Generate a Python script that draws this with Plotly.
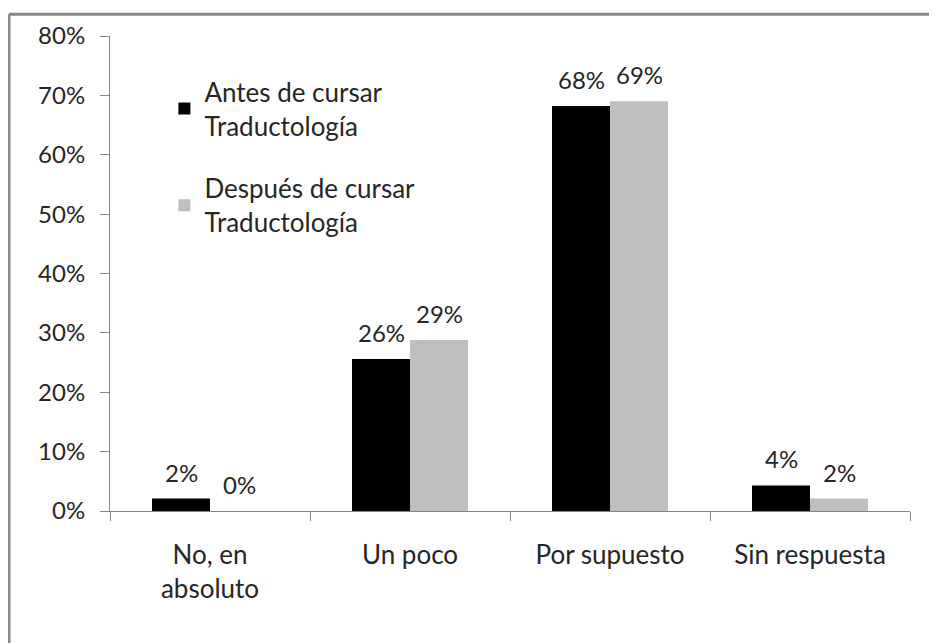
import plotly.graph_objects as go

categories = ["No, en<br>absoluto", "Un poco", "Por supuesto", "Sin respuesta"]
antes = [0.021, 0.256, 0.682, 0.043]
despues = [0.0, 0.288, 0.690, 0.021]
antes_labels = ["2%", "26%", "68%", "4%"]
despues_labels = ["0%", "29%", "69%", "2%"]
series_names = ["Antes de cursar<br>Traductología", "Después de cursar<br>Traductología"]
y_ticks = [0, 0.1, 0.2, 0.3, 0.4, 0.5, 0.6, 0.7, 0.8]
y_ticklabels = ["0%", "10%", "20%", "30%", "40%", "50%", "60%", "70%", "80%"]

FONT = "Lato"
TXT = "#262626"
AX = "#868686"
BAR_PX = 58  # bar width in pixels (800px / 4 categories * 0.58 / 2)

fig = go.Figure()
fig.add_trace(go.Bar(x=categories, y=antes, name=series_names[0], marker_color="#000000",
                     marker_line_width=0, legendgroup="a"))
fig.add_trace(go.Bar(x=categories, y=despues, name=series_names[1], marker_color="#BFBFBF",
                     marker_line_width=0, legendgroup="b"))

annotations = []
for vals, labels, shift in ((antes, antes_labels, -BAR_PX / 2), (despues, despues_labels, BAR_PX / 2)):
    for c, v, t in zip(categories, vals, labels):
        annotations.append(dict(x=c, y=v, xref="x", yref="y", text=t, showarrow=False,
                                xshift=shift, yanchor="bottom", yshift=10,
                                font=dict(size=24, family=FONT, color=TXT)))

PH = 481  # plot height in px
fig.update_layout(
    width=937, height=643,
    margin=dict(l=102, r=35, t=22, b=140),
    paper_bgcolor="white", plot_bgcolor="white",
    barmode="group", bargap=0.42, bargroupgap=0,
    font=dict(family=FONT, size=24, color=TXT),
    showlegend=True,
    legend=dict(x=0.068, y=0.932, xanchor="left", yanchor="top",
                bgcolor="rgba(0,0,0,0)", font=dict(size=26, family=FONT, color=TXT),
                tracegroupgap=26, itemwidth=30),
    xaxis=dict(showline=True, linecolor=AX, linewidth=1, ticks="outside", tickson="boundaries",
               ticklen=9, tickcolor=AX, tickfont=dict(size=26, family=FONT, color=TXT),
               ticklabelstandoff=21,
               showgrid=False, zeroline=False),
    yaxis=dict(range=[0, 0.8], tickvals=y_ticks, ticktext=y_ticklabels, showline=True,
               linecolor=AX, linewidth=1, ticks="outside", ticklen=9, tickcolor=AX,
               ticklabelstandoff=10,
               tickfont=dict(size=24, family=FONT, color=TXT), showgrid=False, zeroline=False),
    annotations=annotations,
    shapes=[
        dict(type="line", xref="paper", yref="paper", x0=-101/800, x1=840/800, y0=(PH+22)/PH, y1=(PH+22)/PH,
             line=dict(color="#888888", width=3)),
        dict(type="line", xref="paper", yref="paper", x0=-101/800, x1=-101/800, y0=(PH+22)/PH, y1=-140/PH,
             line=dict(color="#888888", width=3)),
    ],
)

fig.write_html("out.html")
